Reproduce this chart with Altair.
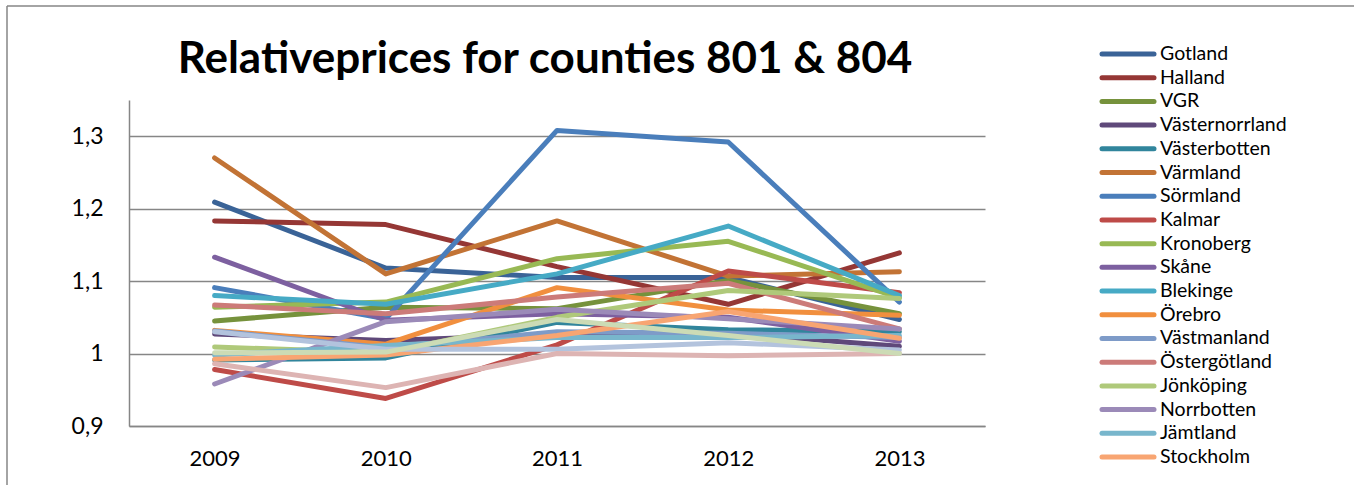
import altair as alt
import pandas as pd

# Years on the category axis
years = ["2009", "2010", "2011", "2012", "2013"]

# County names in series order (the legend lists the first 18)
counties = [
    "Gotland", "Halland", "VGR", "Västernorrland", "Västerbotten", "Värmland",
    "Sörmland", "Kalmar", "Kronoberg", "Skåne", "Blekinge", "Örebro",
    "Västmanland", "Östergötland", "Jönköping", "Norrbotten", "Jämtland",
    "Stockholm", "Uppsala", "Dalarna", "Gävleborg",
]
legend_counties = counties[:18]

# Relative price per county, 2009-2013
gotland        = [1.209, 1.118, 1.105, 1.105, 1.047]
halland        = [1.183, 1.178, 1.120, 1.068, 1.139]
vgr            = [1.045, 1.064, 1.062, 1.101, 1.055]
vasternorrland = [1.027, 1.018, 1.026, 1.028, 1.010]
vasterbotten   = [0.991, 0.994, 1.043, 1.033, 1.030]
varmland       = [1.270, 1.110, 1.183, 1.107, 1.113]
sormland       = [1.091, 1.048, 1.308, 1.292, 1.071]
kalmar         = [0.978, 0.938, 1.012, 1.114, 1.084]
kronoberg      = [1.064, 1.071, 1.131, 1.155, 1.077]
skane          = [1.133, 1.046, 1.055, 1.050, 1.017]
blekinge       = [1.080, 1.068, 1.110, 1.176, 1.080]
orebro         = [1.032, 1.013, 1.091, 1.060, 1.053]
vastmanland    = [1.031, 1.008, 1.030, 1.028, 1.022]
ostergotland   = [1.067, 1.055, 1.078, 1.097, 1.034]
jonkoping      = [1.009, 1.001, 1.050, 1.087, 1.076]
norrbotten     = [0.958, 1.044, 1.061, 1.048, 1.034]
jamtland       = [0.998, 1.011, 1.022, 1.022, 1.025]
stockholm      = [0.992, 0.998, 1.025, 1.058, 1.021]
uppsala        = [1.030, 1.006, 1.006, 1.015, 1.005]
dalarna        = [0.986, 0.953, 1.000, 0.997, 1.000]
gavleborg      = [1.001, 1.002, 1.047, 1.025, 1.000]

series = [
    gotland, halland, vgr, vasternorrland, vasterbotten, varmland,
    sormland, kalmar, kronoberg, skane, blekinge, orebro,
    vastmanland, ostergotland, jonkoping, norrbotten, jamtland,
    stockholm, uppsala, dalarna, gavleborg,
]

colors = [
    "#3A6397", "#953735", "#76923C", "#5F497A", "#31859C", "#C27335",
    "#4A7EBB", "#BE4B48", "#98B954", "#7D60A0", "#46AAC5", "#F18F3E",
    "#7E9BC8", "#CC7B79", "#AFC97A", "#9B8AB8", "#78B6CC", "#F8A572",
    "#B3C3DD", "#DDB4B3", "#CCDBB5",
]

rows = []
for name, vals in zip(counties, series):
    for yr, v in zip(years, vals):
        rows.append({"county": name, "year": yr, "value": v})
df = pd.DataFrame(rows)

legend_df = pd.DataFrame({"county": legend_counties})
one_row = pd.DataFrame({"k": [0]})

FONT = "Lato"
GRAY = "#868686"

color = alt.Color(
    "county:N",
    scale=alt.Scale(domain=counties, range=colors),
    legend=None,
)

lines = alt.Chart(df).mark_line(
    strokeWidth=5, strokeCap="round", strokeJoin="round"
).encode(
    x=alt.X(
        "year:O",
        sort=years,
        scale=alt.Scale(type="point", padding=0.5),
        axis=alt.Axis(
            title=None, labelAngle=0, grid=False, domain=True,
            domainColor=GRAY, domainWidth=1.5, ticks=False,
            labelPadding=22, labelFontSize=22, labelFont=FONT,
            labelColor="#000000",
        ),
    ),
    y=alt.Y(
        "value:Q",
        scale=alt.Scale(domain=[0.9, 1.35], nice=False, zero=False),
        axis=alt.Axis(
            title=None, values=[0.9, 1.0, 1.1, 1.2, 1.3],
            labelExpr="replace(format(datum.value, '.1~f'), '.', ',')",
            grid=True, gridColor=GRAY, gridWidth=1.5,
            domain=True, domainColor=GRAY, domainWidth=1.5,
            ticks=False, labelPadding=26, labelFontSize=23,
            labelFont=FONT, labelColor="#000000",
        ),
    ),
    color=color,
)

legend_y = alt.Y(
    "county:N",
    scale=alt.Scale(type="point", domain=legend_counties, range=[-46, 357], padding=0),
    axis=None,
)

legend_swatches = alt.Chart(legend_df).mark_rule(
    strokeWidth=5, strokeCap="round"
).encode(
    x=alt.value(973), x2=alt.value(1025), y=legend_y, color=color,
)

legend_labels = alt.Chart(legend_df).mark_text(
    align="left", baseline="middle", font=FONT, fontSize=19.5, color="#000000"
).encode(
    x=alt.value(1031), y=legend_y, text="county:N",
)

title = alt.Chart(one_row).mark_text(
    text="Relativeprices for counties 801 & 804",
    align="center", baseline="alphabetic", font=FONT, fontSize=44,
    fontWeight="bold", color="#000000",
).encode(x=alt.value(416), y=alt.value(-27))

frame_left = alt.Chart(one_row).mark_rule(color=GRAY, strokeWidth=1.5).encode(
    x=alt.value(-122), y=alt.value(-94), y2=alt.value(385)
)
frame_top = alt.Chart(one_row).mark_rule(color=GRAY, strokeWidth=1.5).encode(
    x=alt.value(-122), x2=alt.value(1225), y=alt.value(-94)
)

chart = alt.layer(
    frame_left, frame_top, title, lines, legend_swatches, legend_labels
).resolve_scale(
    y="independent"
).properties(
    width=856, height=326,
    padding={"left": 6, "top": 5, "right": 0, "bottom": 0},
    background="#FFFFFF",
).configure_view(stroke=None)

chart.save("out.html", embed_options={"renderer": "svg", "actions": False})
